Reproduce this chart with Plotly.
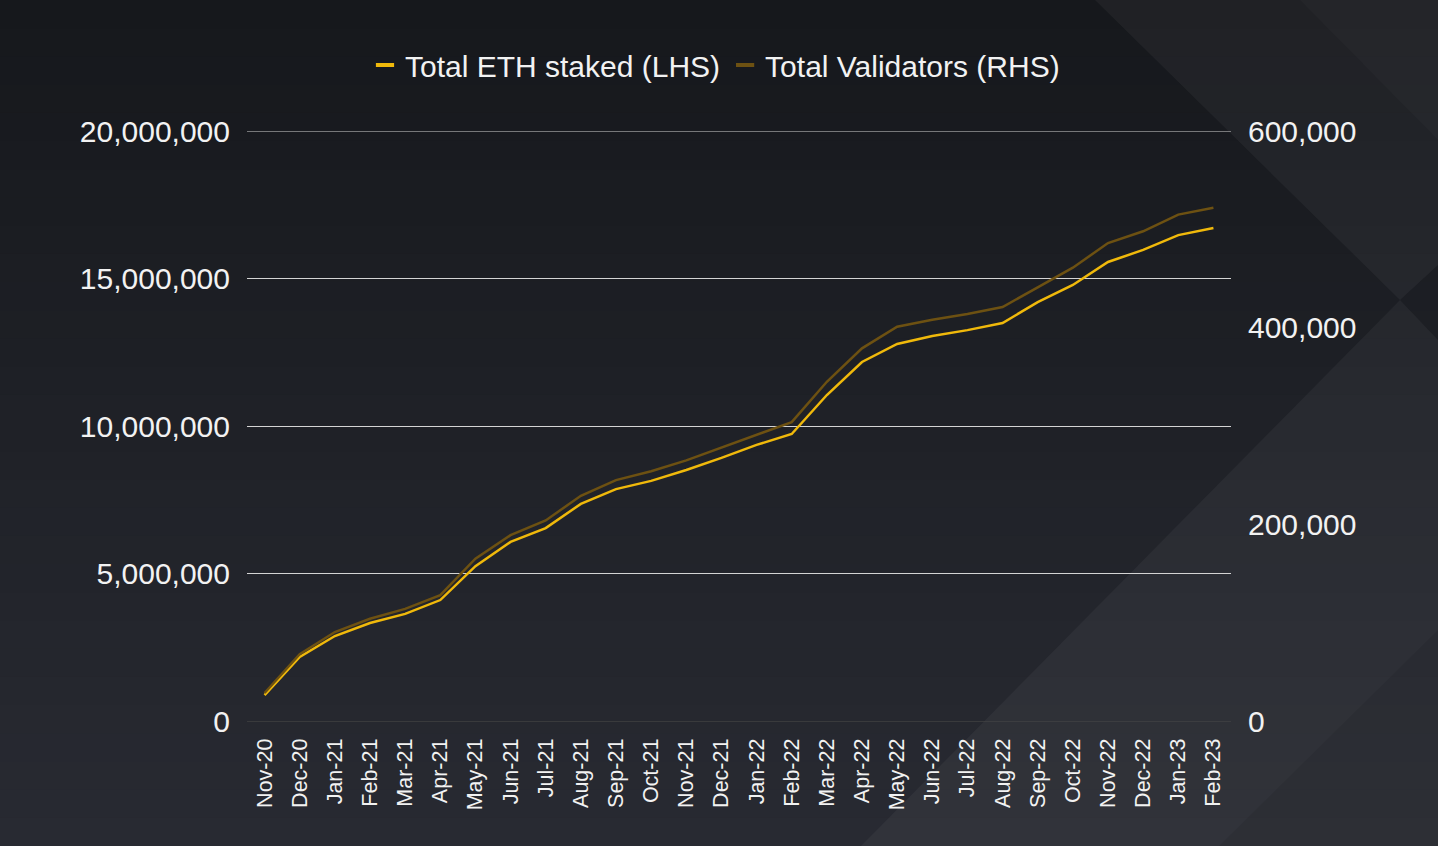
import plotly.graph_objects as go

months = ["Nov-20", "Dec-20", "Jan-21", "Feb-21", "Mar-21", "Apr-21", "May-21", "Jun-21",
          "Jul-21", "Aug-21", "Sep-21", "Oct-21", "Nov-21", "Dec-21", "Jan-22", "Feb-22",
          "Mar-22", "Apr-22", "May-22", "Jun-22", "Jul-22", "Aug-22", "Sep-22", "Oct-22",
          "Nov-22", "Dec-22", "Jan-23", "Feb-23"]

eth_staked = [880000, 2170000, 2880000, 3320000, 3630000, 4100000, 5250000, 6070000,
              6540000, 7360000, 7860000, 8140000, 8510000, 8920000, 9360000, 9730000,
              11050000, 12170000, 12780000, 13050000, 13250000, 13490000, 14200000, 14780000,
              15560000, 15970000, 16470000, 16710000]

validators = [28500, 68000, 90500, 104000, 114000, 128000, 165000, 189000,
              204000, 229000, 245000, 254000, 265000, 278000, 291000, 304000,
              345000, 379000, 401000, 408000, 414000, 421000, 441000, 461000,
              486000, 498000, 515000, 522000]

left_ticks = [0, 5000000, 10000000, 15000000, 20000000]
right_ticks = [0, 200000, 400000, 600000]

YELLOW = "#f0b90b"
BROWN = "#6d5112"
FONT = "Liberation Sans, Arial, sans-serif"

# Canvas / plot-area geometry (pixels)
WIDTH, HEIGHT = 1438, 846
L, R, T, B = 247, 1231, 131, 721
PW, PH = R - L, B - T


def px(x):
    return (x - L) / PW


def py(y):
    return (B - y) / PH


def path(points):
    return "M " + " L ".join(f"{px(a):.5f},{py(b):.5f}" for a, b in points) + " Z"


shapes = []
# vertical background gradient (dark top -> lighter bottom)
top_c = (22, 24, 28)
bot_c = (40, 42, 50)
n = 30
for i in range(n):
    t = i / (n - 1)
    c = tuple(int(round(top_c[k] + (bot_c[k] - top_c[k]) * t)) for k in range(3))
    y0 = HEIGHT * i / n
    y1 = HEIGHT * (i + 1) / n + 1
    shapes.append(dict(type="rect", xref="paper", yref="paper",
                       x0=px(0), x1=px(WIDTH), y0=py(y1), y1=py(y0),
                       fillcolor=f"rgb{c}", line=dict(width=0), layer="below"))

# decorative diagonal panels
shapes.append(dict(type="path", xref="paper", yref="paper",
                   path=path([(1095, 0), (WIDTH, 0), (WIDTH, 265), (1400, 300)]),
                   fillcolor="rgba(255,255,255,0.045)", line=dict(width=0), layer="below"))
shapes.append(dict(type="path", xref="paper", yref="paper",
                   path=path([(1300, 0), (WIDTH, 0), (WIDTH, 140)]),
                   fillcolor="rgba(255,255,255,0.02)", line=dict(width=0), layer="below"))
shapes.append(dict(type="path", xref="paper", yref="paper",
                   path=path([(1400, 300), (861, HEIGHT), (WIDTH, HEIGHT), (WIDTH, 340)]),
                   fillcolor="rgba(255,255,255,0.045)", line=dict(width=0), layer="below"))
shapes.append(dict(type="path", xref="paper", yref="paper",
                   path=path([(1219, HEIGHT), (WIDTH, HEIGHT), (WIDTH, 630)]),
                   fillcolor="rgba(0,0,0,0.07)", line=dict(width=0), layer="below"))

# top gridline (at the range edge)
shapes.append(dict(type="line", xref="paper", yref="y", x0=0, x1=1,
                   y0=left_ticks[-1], y1=left_ticks[-1],
                   line=dict(color="#d4d4d4", width=1), layer="below"))

fig = go.Figure()

fig.add_trace(go.Scatter(x=months, y=validators, name="Total Validators (RHS)",
                         mode="lines", line=dict(color=BROWN, width=2.5),
                         yaxis="y2", showlegend=False))
fig.add_trace(go.Scatter(x=months, y=eth_staked, name="Total ETH staked (LHS)",
                         mode="lines", line=dict(color=YELLOW, width=2.5),
                         yaxis="y", showlegend=False))

# legend entries with short dash symbols
fig.add_trace(go.Scatter(x=[None], y=[None], name="Total ETH staked (LHS)", mode="markers",
                         marker=dict(symbol="line-ew", size=13, line=dict(color=YELLOW, width=4))))
fig.add_trace(go.Scatter(x=[None], y=[None], name="Total Validators (RHS)", mode="markers",
                         marker=dict(symbol="line-ew", size=13, line=dict(color=BROWN, width=4))))

fig.update_layout(
    width=WIDTH, height=HEIGHT,
    margin=dict(l=L, r=WIDTH - R, t=T, b=HEIGHT - B, pad=0),
    paper_bgcolor="#1c1e23",
    plot_bgcolor="rgba(0,0,0,0)",
    font=dict(family=FONT, color="#f2f2f2", size=30),
    shapes=shapes,
    showlegend=True,
    legend=dict(orientation="h", x=px(715), xanchor="center", y=py(65), yanchor="middle",
                font=dict(size=30, color="#f2f2f2", family=FONT),
                bgcolor="rgba(0,0,0,0)", itemwidth=30, traceorder="normal"),
    xaxis=dict(type="category", categoryorder="array", categoryarray=months,
               range=[-0.5, len(months) - 0.5], showgrid=False, zeroline=False,
               showline=True, linecolor="rgba(70,70,70,0.6)", linewidth=1,
               tickangle=-90, tickfont=dict(size=21.5, color="#f2f2f2"),
               ticks="", ticklabelstandoff=8),
    yaxis=dict(range=[0, 20000000], tickvals=left_ticks,
               tickformat=",d", showgrid=True, gridcolor="#d4d4d4", gridwidth=1,
               zeroline=False, showline=False, ticks="",
               tickfont=dict(size=30, color="#f2f2f2"), ticklabelstandoff=16),
    yaxis2=dict(range=[0, 600000], tickvals=right_ticks, tickformat=",d",
                overlaying="y", side="right", showgrid=False, zeroline=False,
                showline=False, ticks="",
                tickfont=dict(size=30, color="#f2f2f2"), ticklabelstandoff=16),
)

fig.write_html("out.html",
               config={"displayModeBar": False},
               post_script="document.body.style.margin='0';document.body.style.padding='0';"
                           "document.documentElement.style.overflow='hidden';")
